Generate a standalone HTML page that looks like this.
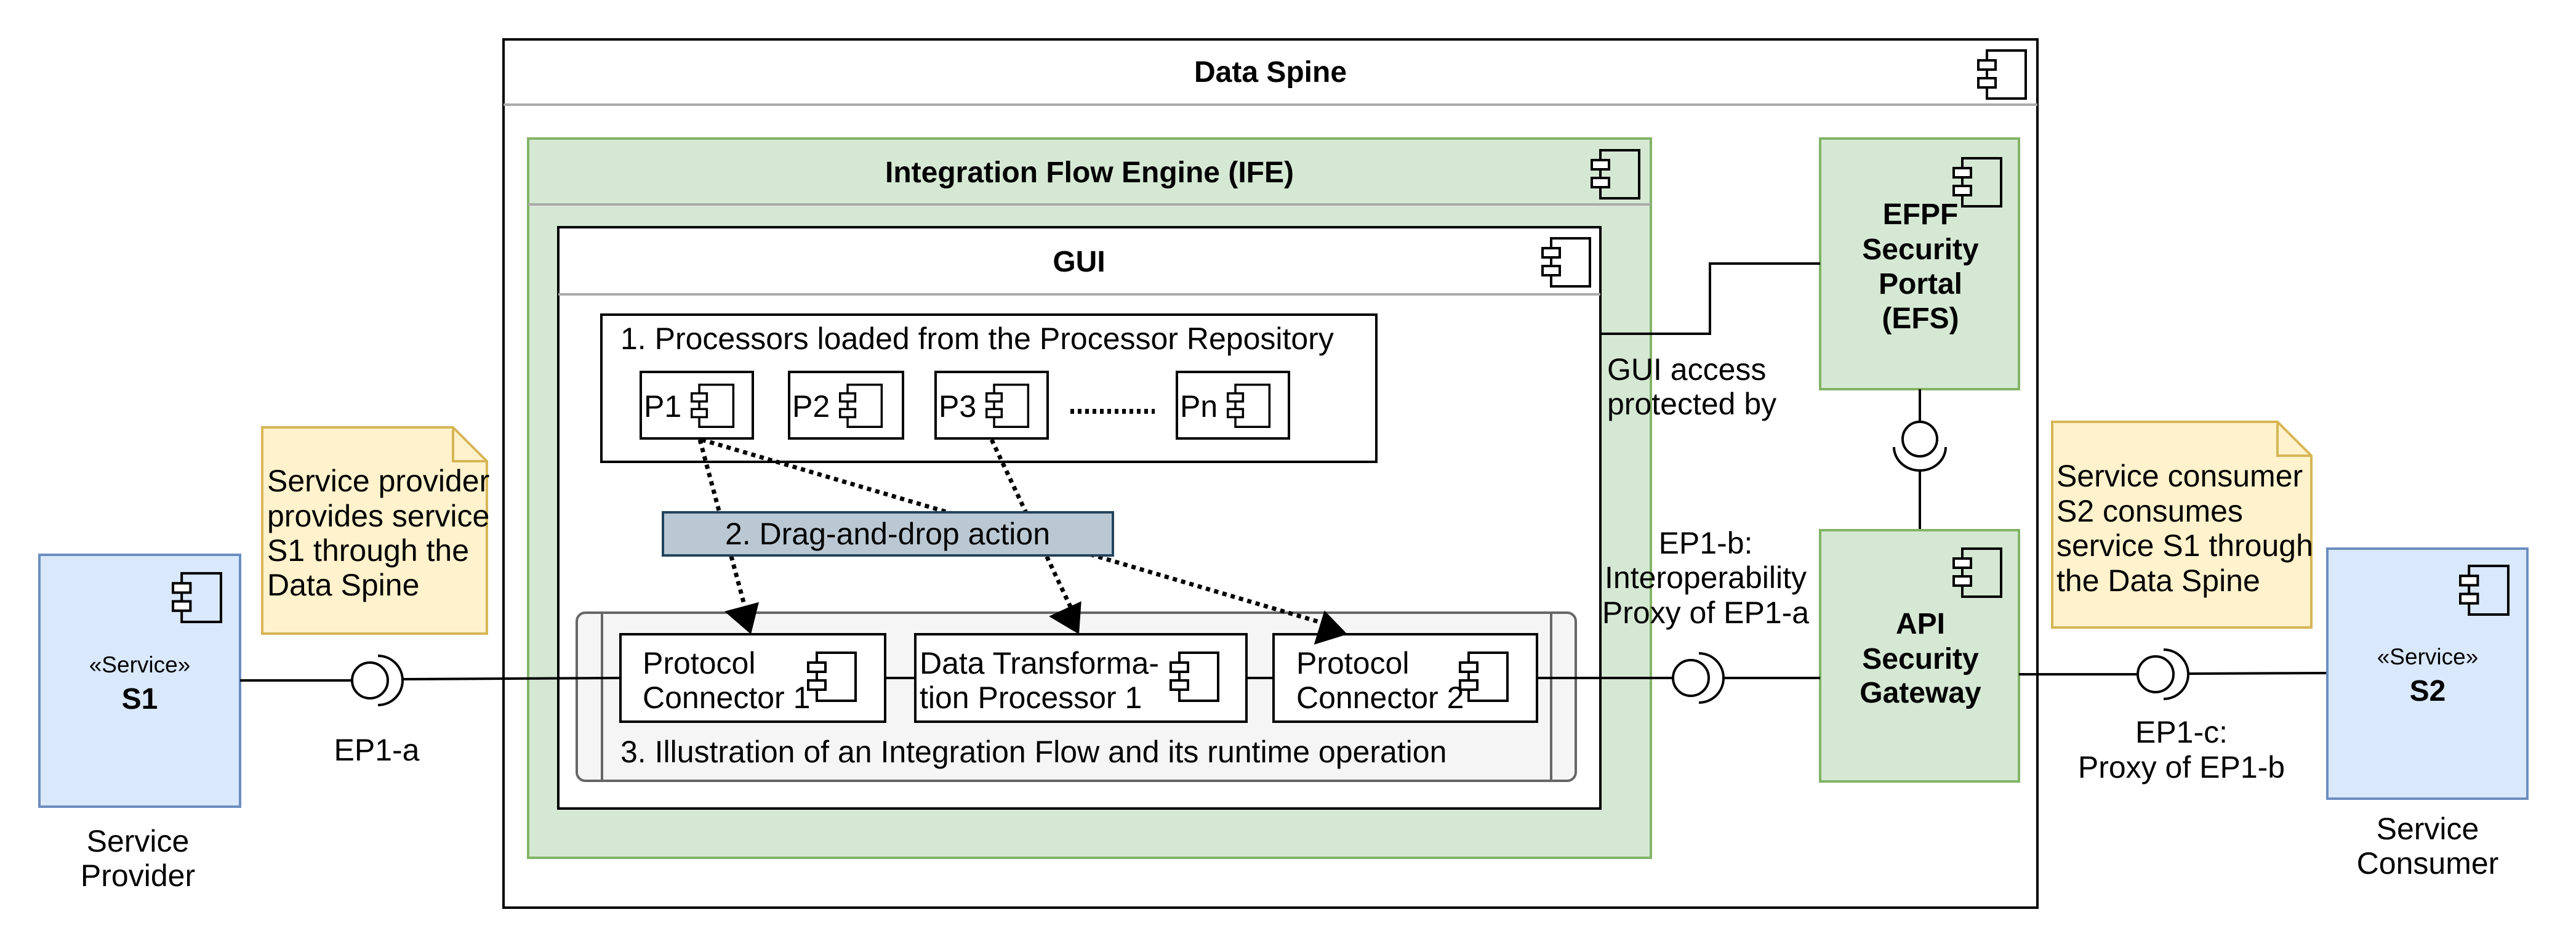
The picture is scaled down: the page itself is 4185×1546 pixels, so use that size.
<!DOCTYPE html>
<html><head><meta charset="utf-8"><style>
html,body{margin:0;padding:0;background:#fff}
svg{display:block}
text{font-family:"Liberation Sans",Arial,sans-serif;fill:#000}
.b{font-weight:bold}
</style></head><body>
<svg width="4185" height="1546" viewBox="0 0 4185 1546" xmlns="http://www.w3.org/2000/svg">
<defs>
<symbol id="ic" viewBox="0 0 82 82">
<rect x="16" y="2" width="63" height="78" fill="none" stroke="#000" stroke-width="4"/>
<rect x="2" y="18" width="28" height="15" fill="#fff" stroke="#000" stroke-width="4"/>
<rect x="2" y="47" width="28" height="15" fill="#fff" stroke="#000" stroke-width="4"/>
</symbol>
</defs>

<!-- Data Spine -->
<rect x="818" y="64" width="2492" height="1410" fill="#fff" stroke="#000" stroke-width="4"/>
<line x1="818" y1="170" x2="3310" y2="170" stroke="#aaa" stroke-width="4"/>
<text x="2064" y="133" font-size="48" class="b" text-anchor="middle">Data Spine</text>
<use href="#ic" x="3212" y="80" width="82" height="82"/>

<!-- IFE -->
<rect x="858" y="225" width="1824" height="1168" fill="#d5e8d4" stroke="#82b366" stroke-width="4"/>
<line x1="858" y1="332" x2="2682" y2="332" stroke="#aaa" stroke-width="4"/>
<text x="1770" y="296" font-size="48" class="b" text-anchor="middle">Integration Flow Engine (IFE)</text>
<use href="#ic" x="2584" y="242" width="82" height="82"/>

<!-- GUI -->
<rect x="907" y="369" width="1693" height="944" fill="#fff" stroke="#000" stroke-width="4"/>
<line x1="907" y1="478" x2="2600" y2="478" stroke="#aaa" stroke-width="4"/>
<text x="1753" y="441" font-size="48" class="b" text-anchor="middle">GUI</text>
<use href="#ic" x="2504" y="385" width="82" height="82"/>

<!-- Processors -->
<rect x="977" y="511" width="1259" height="239" fill="#fff" stroke="#000" stroke-width="4"/>
<text x="1008" y="567" font-size="50">1. Processors loaded from the Processor Repository</text>
<g stroke="#000" stroke-width="4" fill="#fff">
<rect x="1041" y="604" width="182" height="108"/>
<rect x="1282" y="604" width="185" height="108"/>
<rect x="1520" y="604" width="182" height="108"/>
<rect x="1912" y="604" width="182" height="108"/>
</g>
<text x="1046" y="677" font-size="50">P1</text>
<text x="1287" y="677" font-size="50">P2</text>
<text x="1525" y="677" font-size="50">P3</text>
<text x="1917" y="677" font-size="50">Pn</text>
<use href="#ic" x="1122" y="622" width="72" height="74"/>
<use href="#ic" x="1363" y="622" width="72" height="74"/>
<use href="#ic" x="1601" y="622" width="72" height="74"/>
<use href="#ic" x="1993" y="622" width="72" height="74"/>
<line x1="1739" y1="668" x2="1876" y2="668" stroke="#000" stroke-width="8" stroke-dasharray="6 6"/>

<!-- Flow container -->
<rect x="937" y="995" width="1623" height="273" rx="14" fill="#f5f5f5" stroke="#666" stroke-width="4"/>
<line x1="978" y1="995" x2="978" y2="1268" stroke="#666" stroke-width="4"/>
<line x1="2520" y1="995" x2="2520" y2="1268" stroke="#666" stroke-width="4"/>
<text x="1008" y="1238" font-size="50">3. Illustration of an Integration Flow and its runtime operation</text>
<line x1="1438" y1="1101" x2="1487" y2="1101" stroke="#000" stroke-width="4"/>
<line x1="2025" y1="1101" x2="2069" y2="1101" stroke="#000" stroke-width="4"/>
<g stroke="#000" stroke-width="4" fill="#fff">
<rect x="1008" y="1030" width="430" height="142"/>
<rect x="1487" y="1030" width="538" height="142"/>
<rect x="2069" y="1030" width="428" height="142"/>
</g>
<text x="1044" y="1094" font-size="50">Protocol</text>
<text x="1044" y="1150" font-size="50">Connector 1</text>
<text x="1494" y="1094" font-size="50">Data Transforma-</text>
<text x="1494" y="1150" font-size="50">tion Processor 1</text>
<text x="2106" y="1094" font-size="50">Protocol</text>
<text x="2106" y="1150" font-size="50">Connector 2</text>
<use href="#ic" x="1311" y="1058" width="82" height="82"/>
<use href="#ic" x="1900" y="1058" width="82" height="82"/>
<use href="#ic" x="2370" y="1058" width="82" height="82"/>

<!-- dotted arrows -->
<g stroke="#000" stroke-width="7" stroke-dasharray="7 7" fill="none">
<line x1="1137" y1="714" x2="1214" y2="1000"/>
<line x1="1140" y1="714" x2="2150" y2="1012"/>
<line x1="1611" y1="714" x2="1746" y2="1000"/>
</g>
<polygon points="1220,1030 1188,983 1246,983" fill="#000" transform="rotate(-15 1220 1030)"/>
<polygon points="1753,1030 1721,983 1779,983" fill="#000" transform="rotate(-25 1753 1030)"/>
<polygon points="2189,1030 2157,983 2215,983" fill="#000" transform="rotate(-73 2189 1030)"/>

<!-- drag box -->
<rect x="1077" y="832" width="731" height="70" fill="#bac8d3" stroke="#23445d" stroke-width="4"/>
<text x="1442" y="884" font-size="50" text-anchor="middle">2. Drag-and-drop action</text>

<!-- EFS -->
<rect x="2957" y="225" width="323" height="407" fill="#d5e8d4" stroke="#82b366" stroke-width="4"/>
<use href="#ic" x="3172" y="255" width="82" height="82"/>
<g font-size="48" class="b" text-anchor="middle">
<text x="3120" y="364">EFPF</text>
<text x="3120" y="421">Security</text>
<text x="3120" y="477">Portal</text>
<text x="3120" y="533">(EFS)</text>
</g>
<polyline points="2957,428 2778,428 2778,542 2602,542" fill="none" stroke="#000" stroke-width="4"/>
<text x="2611" y="617" font-size="50">GUI access</text>
<text x="2611" y="673" font-size="50">protected by</text>

<line x1="3119" y1="632" x2="3119" y2="685" stroke="#000" stroke-width="4"/>
<circle cx="3119" cy="713" r="28" fill="none" stroke="#000" stroke-width="4"/>
<path d="M3077,726 A42,38 0 0 0 3161,726" fill="none" stroke="#000" stroke-width="4"/>
<line x1="3119" y1="764" x2="3119" y2="861" stroke="#000" stroke-width="4"/>

<!-- API -->
<rect x="2957" y="861" width="323" height="408" fill="#d5e8d4" stroke="#82b366" stroke-width="4"/>
<use href="#ic" x="3172" y="889" width="82" height="82"/>
<g font-size="48" class="b" text-anchor="middle">
<text x="3120" y="1029">API</text>
<text x="3120" y="1086">Security</text>
<text x="3120" y="1141">Gateway</text>
</g>

<!-- EP1-b -->
<line x1="2497" y1="1101" x2="2718" y2="1101" stroke="#000" stroke-width="4"/>
<circle cx="2747" cy="1101" r="29" fill="none" stroke="#000" stroke-width="4"/>
<path d="M2760,1061 A40,40 0 0 1 2760,1141" fill="none" stroke="#000" stroke-width="4"/>
<line x1="2800" y1="1101" x2="2957" y2="1101" stroke="#000" stroke-width="4"/>
<g font-size="50" text-anchor="middle">
<text x="2771" y="899">EP1-b:</text>
<text x="2771" y="955">Interoperability</text>
<text x="2771" y="1012">Proxy of EP1-a</text>
</g>

<!-- S1 -->
<rect x="64" y="901" width="326" height="409" fill="#dae8fc" stroke="#6c8ebf" stroke-width="4"/>
<use href="#ic" x="279" y="929" width="83" height="83"/>
<text x="227" y="1092" font-size="37" text-anchor="middle">«Service»</text>
<text x="227" y="1151" font-size="48" class="b" text-anchor="middle">S1</text>
<text x="224" y="1383" font-size="50" text-anchor="middle">Service</text>
<text x="224" y="1439" font-size="50" text-anchor="middle">Provider</text>

<!-- EP1-a -->
<line x1="390" y1="1105" x2="572" y2="1105" stroke="#000" stroke-width="4"/>
<circle cx="601" cy="1105" r="29" fill="none" stroke="#000" stroke-width="4"/>
<path d="M614,1065 A40,40 0 0 1 614,1145" fill="none" stroke="#000" stroke-width="4"/>
<line x1="654" y1="1103" x2="1008" y2="1101" stroke="#000" stroke-width="4"/>
<text x="612" y="1235" font-size="50" text-anchor="middle">EP1-a</text>

<!-- Note 1 -->
<path d="M426,694 L736,694 L791,749 L791,1029 L426,1029 Z" fill="#fff2cc" stroke="#d6b656" stroke-width="4"/>
<path d="M736,694 L736,749 L791,749" fill="none" stroke="#d6b656" stroke-width="4"/>
<g font-size="50">
<text x="434" y="798">Service provider</text>
<text x="434" y="855">provides service</text>
<text x="434" y="911">S1 through the</text>
<text x="434" y="967">Data Spine</text>
</g>

<!-- EP1-c -->
<line x1="3280" y1="1095" x2="3473" y2="1095" stroke="#000" stroke-width="4"/>
<circle cx="3502" cy="1095" r="29" fill="none" stroke="#000" stroke-width="4"/>
<path d="M3515,1055 A40,40 0 0 1 3515,1135" fill="none" stroke="#000" stroke-width="4"/>
<line x1="3555" y1="1094" x2="3781" y2="1093" stroke="#000" stroke-width="4"/>
<text x="3544" y="1206" font-size="50" text-anchor="middle">EP1-c:</text>
<text x="3544" y="1263" font-size="50" text-anchor="middle">Proxy of EP1-b</text>

<!-- Note 2 -->
<path d="M3334,685 L3700,685 L3755,740 L3755,1019 L3334,1019 Z" fill="#fff2cc" stroke="#d6b656" stroke-width="4"/>
<path d="M3700,685 L3700,740 L3755,740" fill="none" stroke="#d6b656" stroke-width="4"/>
<g font-size="50">
<text x="3341" y="790">Service consumer</text>
<text x="3341" y="847">S2 consumes</text>
<text x="3341" y="903">service S1 through</text>
<text x="3341" y="960">the Data Spine</text>
</g>

<!-- S2 -->
<rect x="3781" y="891" width="325" height="406" fill="#dae8fc" stroke="#6c8ebf" stroke-width="4"/>
<use href="#ic" x="3995" y="917" width="83" height="83"/>
<text x="3944" y="1079" font-size="37" text-anchor="middle">«Service»</text>
<text x="3944" y="1138" font-size="48" class="b" text-anchor="middle">S2</text>
<text x="3944" y="1363" font-size="50" text-anchor="middle">Service</text>
<text x="3944" y="1419" font-size="50" text-anchor="middle">Consumer</text>
</svg>
</body></html>
